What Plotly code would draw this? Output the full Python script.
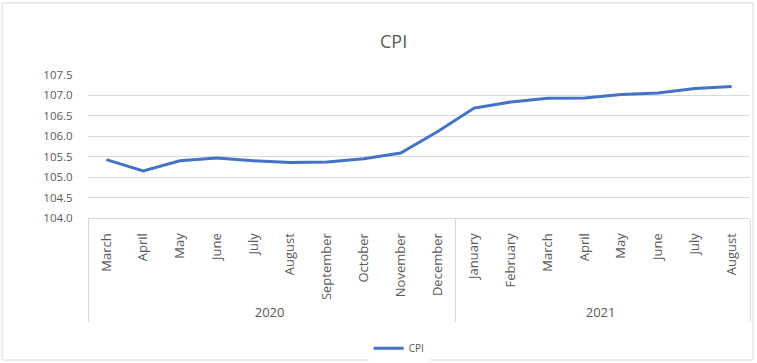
import plotly.graph_objects as go

years = ["2020"] * 10 + ["2021"] * 8
months = ["March", "April", "May", "June", "July", "August", "September", "October",
          "November", "December", "January", "February", "March", "April", "May",
          "June", "July", "August"]
cpi = [105.43, 105.15, 105.40, 105.47, 105.40, 105.36, 105.37, 105.45, 105.59, 106.11,
       106.69, 106.84, 106.93, 106.94, 107.02, 107.06, 107.17, 107.22]

# keep inner labels unique so plotly keeps chronological order (zero-width space)
seen = set()
inner = []
for m in months:
    lab = m
    while lab in seen:
        lab += "\u200b"
    seen.add(lab)
    inner.append(lab)

W, H = 757, 363
ml, mr, mt, mb = 88, 7, 75, 145

fig = go.Figure()
fig.add_trace(go.Scatter(x=[years, inner], y=cpi, mode="lines", name="CPI",
                         line=dict(color="#4472C4", width=3)))

fig.update_layout(
    width=W, height=H,
    margin=dict(l=ml, r=mr, t=mt, b=mb, autoexpand=False),
    paper_bgcolor="white", plot_bgcolor="white",
    font=dict(family="Open Sans", color="#595959", size=11),
    title=dict(text="CPI", x=0.52, xanchor="center", y=0.885, yanchor="middle",
               font=dict(size=18, color="#595959")),
    showlegend=True,
    legend=dict(orientation="h", x=0.47, xanchor="center", y=-0.91, yanchor="middle",
                font=dict(size=10)),
    xaxis=dict(type="multicategory", tickangle=-90, showgrid=False,
               range=[-0.5, 17.5], automargin=False,
               showline=True, linecolor="#D9D9D9", ticks="", showdividers=True,
               dividercolor="#D9D9D9", dividerwidth=1, tickfont=dict(size=13),
               ticklabelstandoff=9),
    yaxis=dict(range=[104, 107.5], dtick=0.5, tickformat=".1f", showgrid=True,
               gridcolor="#D9D9D9", zeroline=False, showline=False, automargin=False,
               tickfont=dict(size=11.5), ticks="outside", ticklen=12, tickcolor="white"),
)

# outer chart border
fig.add_shape(type="rect", xref="paper", yref="paper",
              x0=(2 - ml) / (W - ml - mr), x1=(753 - ml) / (W - ml - mr),
              y0=-(360 - (H - mb)) / (H - mt - mb), y1=1 + (mt - 3) / (H - mt - mb),
              line=dict(color="#D9D9D9", width=1))

fig.write_html("out.html")
